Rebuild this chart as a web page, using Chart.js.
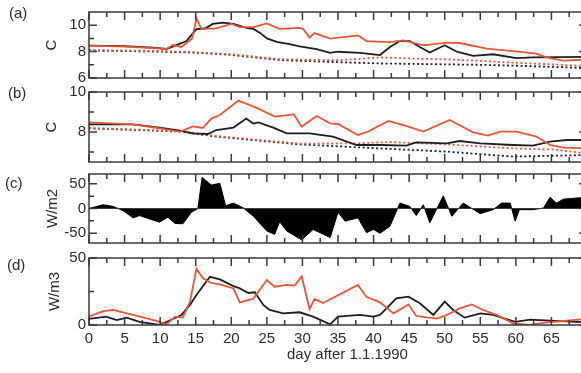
<!DOCTYPE html>
<html>
<head>
<meta charset="utf-8">
<script src="https://cdn.jsdelivr.net/npm/chart.js@4.4.1/dist/chart.umd.min.js"></script>
<style>
body { margin: 0; width: 581px; height: 373px; overflow: hidden; background: #fff; position: relative;
       font-family: "Liberation Sans", Arial, sans-serif; color: #2b2b2b; }
canvas { position: absolute; left: 0; top: 0; }
.lab { position: absolute; font-size: 15px; line-height: 18px; white-space: nowrap; }
</style>
</head>
<body>
<canvas id="pa" width="600" height="373"></canvas>
<canvas id="pb" width="600" height="373"></canvas>
<canvas id="pc" width="600" height="373"></canvas>
<canvas id="pd" width="600" height="373"></canvas>
<div class="lab" style="left:9px;top:4px">(a)</div>
<div class="lab" style="left:8px;top:84px">(b)</div>
<div class="lab" style="left:5px;top:174px">(c)</div>
<div class="lab" style="left:7px;top:256px">(d)</div>
<div class="lab" style="left:287px;top:345px">day after 1.1.1990</div>
<script>
// day ticks shared by all panels
const dayTicks = [0, 5, 10, 15, 20, 25, 30, 35, 40, 45, 50, 55, 60, 65];

// (a) temperature, C
const aBlack = [[0,8.45],[5,8.42],[9,8.3],[10.9,8.2],[12.8,8.6],[13.7,8.8],[15.1,9.7],[16.3,9.75],[17.4,10.1],[18.8,10.2],[20.3,10.1],[22.1,9.8],[23.1,9.72],[24.1,9.4],[25,9.0],[26.4,8.73],[28.2,8.56],[29.6,8.4],[32,8.18],[33.9,7.9],[35,7.99],[38.1,7.9],[40.9,7.74],[42.3,8.35],[43.7,8.8],[45.1,8.8],[46.5,8.35],[47.9,7.93],[50,8.48],[51.7,7.99],[54,7.67],[56.8,7.8],[60.1,7.5],[62.4,7.56],[70,7.6]];
const aRed = [[0,8.45],[5,8.38],[10.9,8.2],[11.8,8.5],[13,8.35],[14.5,9.0],[15.1,10.53],[15.8,9.72],[17.9,9.76],[20,10.1],[21.2,9.85],[23.1,9.85],[25,10.13],[26.8,9.72],[29.6,9.8],[30.1,9.72],[31,9.05],[31.7,9.4],[33.9,8.98],[37.8,9.23],[39,8.8],[42.3,8.72],[44.2,8.85],[47,8.48],[47.9,8.53],[50.3,8.68],[52.1,8.65],[55.9,8.23],[59.6,8.03],[62.9,7.85],[64.3,7.56],[66.7,7.31],[70,7.4]];
const aBlackDot = [[0,8.08],[10,8.0],[15,7.92],[20,7.75],[27,7.35],[35,7.2],[41,7.1],[48,7.05],[55,7.0],[62,6.9],[70,6.75]];
const aRedDot = [[0,8.12],[10,8.05],[15,7.95],[20,7.8],[27,7.42],[35,7.35],[41,7.56],[45,7.48],[50,7.42],[55,7.3],[60,7.15],[64,7.06],[70,6.9]];

// (b) temperature, C
const bBlack = [[0,8.38],[6.2,8.38],[9.9,8.22],[12.8,8.07],[14.6,7.93],[16.7,7.9],[17.9,8.1],[20.3,8.22],[22.1,8.67],[23.1,8.42],[23.8,8.48],[25.9,8.22],[27.8,7.93],[31,7.93],[34.3,7.77],[37.6,7.35],[40.9,7.35],[44.6,7.32],[46,7.48],[50.3,7.43],[52.1,7.55],[55,7.43],[59.6,7.35],[62.4,7.32],[64.8,7.52],[67.2,7.6],[70,7.6]];
const bRed = [[0,8.48],[6.2,8.38],[9.9,8.18],[12.8,8.02],[14.6,8.28],[16,8.2],[17.2,8.67],[18.4,8.85],[21,9.57],[23.5,9.22],[26.1,8.77],[28.8,8.88],[29.9,8.27],[32,8.8],[33.9,8.43],[35,8.4],[37.8,7.85],[39.2,8.02],[42.1,8.55],[44.9,8.27],[47,8.02],[50.7,8.6],[54,7.98],[56.1,7.82],[57.8,8.02],[60.1,8.02],[62.9,7.77],[64.8,7.35],[66.7,7.22],[70,7.18]];
const bBlackDot = [[0,8.18],[12.8,8.02],[17.9,7.77],[29.6,7.38],[40.9,7.18],[50.3,7.02],[59.6,6.77],[70,6.85]];
const bRedDot = [[0,8.2],[12.8,8.05],[17.9,7.8],[29.6,7.42],[37.6,7.43],[42,7.5],[50.3,7.38],[59.6,7.18],[65.5,7.12],[70,6.93]];

// (c) heat flux, W/m2
const cFlux = [[0,0],[2,7.6],[3.4,4.3],[4.8,-4.4],[6.2,-19],[7.1,-14.4],[9.9,-27.7],[11.1,-17.7],[12.1,-30.4],[13.2,-31],[14.4,-7.7],[15.3,0],[15.9,63],[17.2,47.6],[18.4,51],[19.2,5.6],[20.3,11],[21.7,1],[23.1,-15.7],[25,-45.7],[26.1,-52.4],[26.8,-27],[27.8,-45.7],[29.9,-63.7],[31.5,-42.4],[33.9,-59],[35,-7.7],[36,-25.7],[37.8,-19],[39,-49],[40,-42.4],[40.9,-50.4],[42.3,-36],[43.7,11],[45.1,4.3],[46,-14.4],[47,7.6],[47.9,-29],[49.8,25.6],[51,-15.7],[52.6,11],[55,-10.4],[56.8,-2.4],[58,11],[59.2,11],[59.9,-25.7],[60.5,-2.4],[62.4,-2.4],[63.9,1],[64.8,23],[65.7,11],[66.7,19],[70,23]];

// (d) W/m3
const dBlack = [[0,4.5],[2.4,6.2],[3.9,3.7],[5.3,5.5],[7.1,2.4],[9.9,0],[11.8,4.5],[13,7.5],[14.2,15],[15.1,22.4],[17,36],[18.4,34],[20.3,29],[21.2,27.3],[22.4,23.9],[23.3,24.4],[24.5,15],[25.4,11.2],[27.3,8.7],[29.6,9.5],[31.5,6.2],[33.9,0.5],[35,6.2],[38.1,7.5],[40,6.2],[40.9,7.5],[43.2,19.9],[44.9,21.1],[46.5,16.2],[48.4,7.5],[50,17.4],[51.2,11.2],[52.8,5.5],[55,8.7],[56.8,7.5],[59.9,2.4],[62,4],[64.8,3.3],[70,2]];
const dRed = [[0,6.2],[2,10.4],[3.4,11.2],[6.2,7.5],[9.5,3],[10.9,0.5],[12.1,6.2],[13.2,5.5],[14.2,17.4],[15.1,42],[16,35],[17,31.7],[18.8,29.7],[20.3,27.3],[21.2,16.9],[23.1,19.7],[25,33.6],[26.1,28.6],[27.8,30],[28.9,29.4],[29.9,36.3],[31,11.9],[31.7,19.4],[32.9,16.4],[37.8,29.9],[39,21.1],[40.9,16.9],[42.8,8.7],[44.9,15.4],[46,6.7],[48.9,4.7],[50.3,7.5],[52.1,12.4],[53.8,15.4],[55.4,11.2],[57.3,7.5],[59.6,1.2],[62,0],[64.3,2],[66.7,3],[70,4.5]];

const RED = 'rgb(228,86,58)';
const BLACK = '#1e1e1e';
const FRAME = '#3a3a3a';
const FONT = { family: '"Liberation Sans", Arial, sans-serif', size: 15 };

// box frame with inward ticks, drawn from the chart's own scales
const frameTicks = {
  id: 'frameTicks',
  afterDraw(chart, args, opts) {
    const { ctx, chartArea: a, scales: { x, y } } = chart;
    ctx.save();
    ctx.strokeStyle = FRAME;
    if (opts.zero) {
      ctx.lineWidth = 1;
      ctx.beginPath();
      ctx.moveTo(a.left, y.getPixelForValue(0));
      ctx.lineTo(a.right, y.getPixelForValue(0));
      ctx.stroke();
    }
    ctx.lineWidth = 1.5;
    ctx.strokeRect(a.left, a.top, a.right - a.left, a.bottom - a.top);
    ctx.beginPath();
    dayTicks.forEach(d => {
      [[d, 8], [d + 2.5, 5]].forEach(([v, len]) => {
        const px = x.getPixelForValue(v);
        ctx.moveTo(px, a.top); ctx.lineTo(px, a.top + len);
        ctx.moveTo(px, a.bottom); ctx.lineTo(px, a.bottom - len);
      });
    });
    opts.major.concat(opts.minor).forEach(v => {
      const len = opts.major.includes(v) ? 8 : 5;
      const py = y.getPixelForValue(v);
      ctx.moveTo(a.left, py); ctx.lineTo(a.left + len, py);
      ctx.moveTo(a.right, py); ctx.lineTo(a.right - len, py);
    });
    ctx.stroke();
    ctx.restore();
  }
};

function line(data, color, dotted) {
  return { data, borderColor: color, borderWidth: 1.8, pointRadius: 0, tension: 0,
           borderDash: dotted ? [2, 2.5] : [], fill: false };
}

function panel(id, cfg) {
  return new Chart(document.getElementById(id), {
    type: 'line',
    data: { datasets: cfg.datasets },
    plugins: [frameTicks],
    options: {
      responsive: false,
      animation: false,
      devicePixelRatio: 1,
      layout: { padding: { left: 0, right: 13, top: cfg.top, bottom: cfg.bottom } },
      plugins: { legend: { display: false }, tooltip: { enabled: false },
                 frameTicks: { major: cfg.major, minor: cfg.minor, zero: cfg.zero } },
      scales: {
        x: {
          type: 'linear', min: 0, max: 70, display: cfg.showX,
          afterBuildTicks: s => { s.ticks = dayTicks.map(v => ({ value: v })); },
          afterFit: s => { s.height = cfg.showX ? 30 : 0; },
          grid: { display: false, drawTicks: false }, border: { display: false },
          ticks: { font: FONT, color: '#2b2b2b', padding: 5, maxRotation: 0, autoSkip: false }
        },
        y: {
          min: cfg.min, max: cfg.max,
          afterBuildTicks: s => { s.ticks = cfg.major.map(v => ({ value: v })); },
          afterFit: s => { s.width = 89; },
          grid: { display: false, drawTicks: false }, border: { display: false },
          ticks: { font: FONT, color: '#2b2b2b', padding: 3, autoSkip: false },
          title: { display: true, text: cfg.title, font: FONT, color: '#2b2b2b',
                   padding: { top: cfg.titlePad, bottom: 0 } }
        }
      }
    }
  });
}

panel('pa', {
  datasets: [line(aRed, RED), line(aBlack, BLACK), line(aRedDot, RED, true), line(aBlackDot, BLACK, true)],
  min: 6, max: 11, major: [6, 8, 10], minor: [7, 9], title: 'C', titlePad: 43,
  top: 11, bottom: 295, showX: false
});
panel('pb', {
  datasets: [line(bRed, RED), line(bBlack, BLACK), line(bRedDot, RED, true), line(bBlackDot, BLACK, true)],
  min: 6.5, max: 10, major: [8, 10], minor: [7, 9], title: 'C', titlePad: 43,
  top: 92, bottom: 211, showX: false
});
panel('pc', {
  datasets: [Object.assign(line(cFlux, '#000'), { borderWidth: 1, fill: 'origin', backgroundColor: '#000' })],
  min: -70, max: 70, major: [-50, 0, 50], minor: [-25, 25], title: 'W/m2', titlePad: 44,
  top: 174, bottom: 130, showX: false, zero: true
});
panel('pd', {
  datasets: [line(dRed, RED), line(dBlack, BLACK)],
  min: 0, max: 50, major: [0, 50], minor: [25], title: 'W/m3', titlePad: 46,
  top: 258, bottom: 18, showX: true
});
</script>
</body>
</html>
